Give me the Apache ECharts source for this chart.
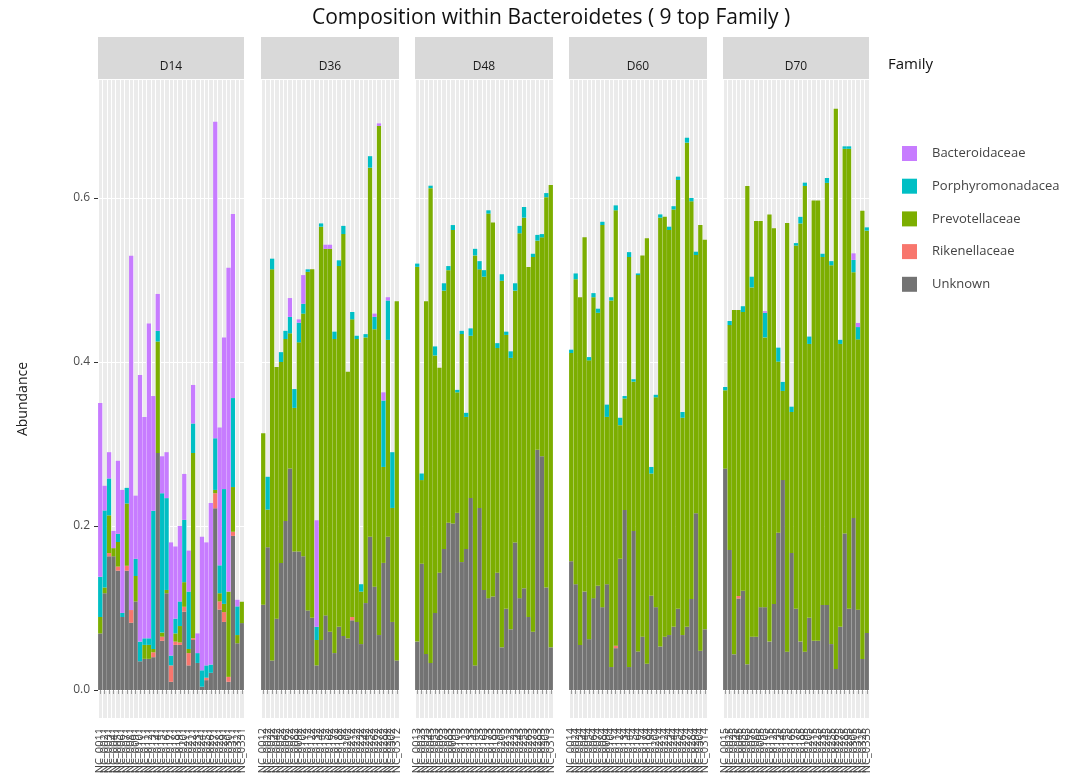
<!DOCTYPE html>
<html>
<head>
<meta charset="utf-8">
<script src="https://cdn.jsdelivr.net/npm/echarts@6/dist/echarts.min.js"></script>
<style>
html,body{margin:0;padding:0;background:#fff;}
#main{width:1079px;height:781px;}
</style>
</head>
<body>
<div id="main"></div>
<script>
var days = ["D14", "D36", "D48", "D60", "D70"];
var families = ["Bacteroidaceae", "Porphyromonadacea", "Prevotellaceae", "Rikenellaceae", "Unknown"];
var familyColors = ["#C77CFF", "#00BFC4", "#7CAE00", "#F8766D", "#737373"];
var yTicks = [0, 0.2, 0.4, 0.6];

// sample names (x tick labels) per facet
var samples_D14 = ["NC_0011","NC_0021","NC_0031","NC_0041","NC_0051","NC_0061","NC_0071","NC_0081","NC_0091","NC_0101","NC_0111",
  "NC_0121","NC_0131","NC_0141","NC_0151","NC_0161","NC_0171","NC_0181","NC_0191","NC_0201","NC_0211","NC_0221",
  "NC_0231","NC_0241","NC_0251","NC_0261","NC_0271","NC_0281","NC_0291","NC_0301","NC_0311","NC_0321","NC_0331"];
var samples_D36 = ["NC_0012","NC_0022","NC_0032","NC_0042","NC_0052","NC_0062","NC_0072","NC_0082","NC_0092","NC_0102","NC_0112",
  "NC_0122","NC_0132","NC_0142","NC_0152","NC_0162","NC_0172","NC_0182","NC_0192","NC_0202","NC_0212","NC_0222",
  "NC_0232","NC_0242","NC_0252","NC_0262","NC_0272","NC_0282","NC_0292","NC_0302","NC_0312"];
var samples_D48 = ["NC_0013","NC_0023","NC_0033","NC_0043","NC_0053","NC_0063","NC_0073","NC_0083","NC_0093","NC_0103","NC_0113",
  "NC_0123","NC_0133","NC_0143","NC_0153","NC_0163","NC_0173","NC_0183","NC_0193","NC_0203","NC_0213","NC_0223",
  "NC_0233","NC_0243","NC_0253","NC_0263","NC_0273","NC_0283","NC_0293","NC_0303","NC_0313"];
var samples_D60 = ["NC_0014","NC_0024","NC_0034","NC_0044","NC_0054","NC_0064","NC_0074","NC_0084","NC_0094","NC_0104","NC_0114",
  "NC_0124","NC_0134","NC_0144","NC_0154","NC_0164","NC_0174","NC_0184","NC_0194","NC_0204","NC_0214","NC_0224",
  "NC_0234","NC_0244","NC_0254","NC_0264","NC_0274","NC_0284","NC_0294","NC_0304","NC_0314"];
var samples_D70 = ["NC_0015","NC_0025","NC_0035","NC_0045","NC_0055","NC_0065","NC_0075","NC_0085","NC_0095","NC_0105","NC_0115",
  "NC_0125","NC_0135","NC_0145","NC_0155","NC_0165","NC_0175","NC_0185","NC_0195","NC_0205","NC_0215","NC_0225",
  "NC_0235","NC_0245","NC_0255","NC_0265","NC_0275","NC_0285","NC_0295","NC_0305","NC_0315","NC_0325","NC_0335"];

// D14
var unknown_D14 = [.069,.118,.163,.163,.1455,.089,.1455,.082,.108,.035,.038,.038,.04,.289,.06,.118,.01,.055,.055,.0955,.03,.061,.033,.004,.012,.021,.2215,.098,.083,.01,.188,.057,.0816];
var rikenellaceae_D14 = [0,0,.004,0,.005,0,.006,.0155,0,0,0,0,.006,0,.005,0,.02,.004,.003,.006,.015,.002,0,0,.003,0,.0185,.01,.012,.006,.005,0,0];
var prevotellaceae_D14 = [.02,.007,.046,.01,.03,0,.076,0,.031,0,.017,.017,.004,.136,.005,.004,0,.01,.02,.03,.005,.226,0,0,0,0,.004,.01,.01,.104,.0545,.01,.026];
var porphyromonadaceae_D14 = [.049,.094,.045,0,.01,.005,.019,0,.021,.024,.008,.008,.1685,.013,.17,.112,.012,.018,.03,.076,.07,.036,.012,.02,.015,.01,.063,.034,.14,0,.1085,.035,0];
var bacteroidaceae_D14 = [.212,.03,.032,.021,.089,.15,0,.432,.077,.325,.27,.384,.14,.045,.045,.056,.138,.088,.092,.056,.05,.047,.024,.163,.15,.197,.386,.168,.185,.395,.2245,.008,0];

// D36
var unknown_D36 = [.104,.174,.036,.087,.155,.206,.27,.169,.169,.163,.097,.088,.03,.061,.091,.071,.045,.077,.066,.063,.085,.083,.056,.106,.187,.126,.067,.155,.187,.083,.036];
var rikenellaceae_D36 = [0,0,0,0,0,0,0,0,0,0,0,0,0,0,0,0,0,0,0,0,.004,0,0,0,0,0,0,0,0,0,0];
var prevotellaceae_D36 = [.209,.046,.477,.307,.245,.222,.165,.175,.255,.296,.413,.425,.031,.504,.447,.467,.383,.44,.49,.325,.363,.345,.064,.324,.45,.314,.621,.117,.24,.139,.438];
var porphyromonadaceae_D36 = [0,.04,.013,0,.012,.01,.02,.023,.024,.012,.003,0,.016,.004,0,0,.009,.007,.01,0,.009,.004,.009,.004,.014,.015,0,.081,.048,.068,0];
var bacteroidaceae_D36 = [0,0,0,0,0,0,.023,0,.004,.035,0,0,.13,0,.005,.005,0,0,0,0,0,0,0,0,0,.004,.003,.01,.004,0,0];

// D48
var unknown_D48 = [.059,.154,.044,.033,.094,.143,.172,.204,.203,.216,.156,.172,.234,.03,.222,.122,.112,.114,.143,.052,.099,.074,.18,.112,.124,.089,.071,.293,.285,.125,.052];
var rikenellaceae_D48 = [0,0,0,0,0,0,0,0,0,0,0,0,0,0,0,0,0,0,0,0,0,0,0,0,0,0,0,0,0,0,0];
var prevotellaceae_D48 = [.457,.102,.43,.579,.314,.25,.315,.308,.358,.147,.278,.161,.198,.5,.291,.382,.469,.456,.274,.447,.334,.331,.307,.445,.452,.427,.457,.255,.267,.476,.564];
var porphyromonadaceae_D48 = [.004,.008,0,.003,.011,0,.009,.005,.006,.003,.004,.005,.009,.008,.01,.008,.004,0,.006,.008,.004,.008,.009,.009,.013,0,.004,.007,.004,.005,0];
var bacteroidaceae_D48 = [0,0,0,0,0,0,0,0,0,0,0,0,0,0,0,0,0,0,0,0,0,0,0,0,0,0,0,0,0,0,0];

// D60
var unknown_D60 = [.157,.129,.055,.12,.062,.112,.127,.101,.129,.028,.051,.16,.2195,.028,.194,.047,.065,.032,.115,.101,.053,.065,.067,.077,.099,.067,.077,.111,.2155,.048,.074];
var rikenellaceae_D60 = [0,0,0,0,0,0,0,0,0,0,.003,0,0,0,0,0,0,0,0,0,0,0,0,0,0,0,0,0,0,0,0];
var prevotellaceae_D60 = [.254,.372,.424,.432,.34,.367,.333,.466,.204,.447,.531,.163,.136,.5,.182,.459,.465,.519,.149,.256,.523,.512,.494,.509,.523,.265,.5905,.485,.315,.519,.475];
var porphyromonadaceae_D60 = [.004,.007,0,0,.004,.005,.005,.004,.015,.004,.006,.009,.003,.006,.003,.002,0,0,.008,.003,.004,0,.004,.004,.004,.007,.006,.004,.004,0,0];
var bacteroidaceae_D60 = [0,0,0,0,0,0,0,0,0,0,0,0,0,0,0,0,0,0,0,0,0,0,0,0,0,0,0,0,0,0,0];

// D70
var unknown_D70 = [.27,.1707,.0435,.1116,.121,.0313,.065,.065,.101,.101,.059,.1049,.1919,.256,.0467,.167,.099,.059,.0467,.088,.06,.06,.1037,.1037,.056,.0256,.077,.191,.099,.2098,.098,.0378,.0695];
var rikenellaceae_D70 = [0,0,0,.003,0,0,0,0,0,0,0,0,0,0,0,0,0,0,0,0,0,0,0,0,0,0,0,0,0,0,0,0,0];
var prevotellaceae_D70 = [.0955,.2743,.4199,.3488,.34,.5833,.426,.507,.471,.329,.521,.4581,.2086,.1087,.5228,.172,.443,.51,.568,.334,.537,.537,.4243,.5147,.462,.6833,.345,.469,.561,.2997,.3296,.5467,.4907];
var porphyromonadaceae_D70 = [.004,.005,0,0,.007,0,.013,0,0,.03,0,0,.017,.011,0,.0065,.003,.008,.004,.009,0,0,.004,.006,.005,0,.005,.003,.003,.015,.015,0,.004];
var bacteroidaceae_D70 = [0,0,0,0,0,0,0,0,0,.002,0,0,0,0,0,0,0,0,0,0,0,0,0,0,0,0,0,0,0,.008,.005,0,0];

var facetSamples = [samples_D14, samples_D36, samples_D48, samples_D60, samples_D70];
var facetData = [
  [bacteroidaceae_D14, porphyromonadaceae_D14, prevotellaceae_D14, rikenellaceae_D14, unknown_D14],
  [bacteroidaceae_D36, porphyromonadaceae_D36, prevotellaceae_D36, rikenellaceae_D36, unknown_D36],
  [bacteroidaceae_D48, porphyromonadaceae_D48, prevotellaceae_D48, rikenellaceae_D48, unknown_D48],
  [bacteroidaceae_D60, porphyromonadaceae_D60, prevotellaceae_D60, rikenellaceae_D60, unknown_D60],
  [bacteroidaceae_D70, porphyromonadaceae_D70, prevotellaceae_D70, rikenellaceae_D70, unknown_D70]
];

var panelLeft = [98, 261, 415, 569, 723];
var panelWidth = [146, 138, 138, 138, 146];
var panelTop = 80, panelHeight = 638;
var font = "Open Sans";

var grids = [], xAxes = [], yAxes = [], series = [], graphics = [];
for (var g = 0; g < days.length; g++) {
  grids.push({
    left: panelLeft[g], top: panelTop, width: panelWidth[g], height: panelHeight,
    show: true, backgroundColor: "#ebebeb", borderWidth: 0
  });
  xAxes.push({
    type: "category", gridIndex: g, data: facetSamples[g],
    axisLine: {show: false},
    axisTick: {show: true, alignWithLabel: true, interval: 0, length: 4, lineStyle: {color: "#999"}},
    axisLabel: {interval: 0, rotate: 90, fontSize: 11, color: "#444", margin: 10, fontFamily: font},
    splitLine: {show: true, interval: 0, lineStyle: {color: "#ffffff", width: 1}}
  });
  yAxes.push({
    type: "value", gridIndex: g, min: -0.03415, max: 0.7439,
    name: g === 0 ? "Abundance" : "", nameLocation: "middle", nameGap: 68, nameRotate: 90,
    nameTextStyle: {fontSize: 14, color: "#222", fontFamily: font},
    axisLine: {show: false},
    axisTick: {show: g === 0, length: 4, customValues: yTicks, lineStyle: {color: "#333"}},
    axisLabel: {show: g === 0, customValues: yTicks, fontSize: 12, color: "#4d4d4d", fontFamily: font,
      formatter: function (v) { return v.toFixed(1); }},
    splitLine: {show: true, lineStyle: {color: "#ffffff", width: 1.2}}
  });
  // stack bottom -> top: Unknown, Rikenellaceae, Prevotellaceae, Porphyromonadacea, Bacteroidaceae
  for (var f = families.length - 1; f >= 0; f--) {
    series.push({
      name: families[f], type: "bar", stack: "s" + g,
      xAxisIndex: g, yAxisIndex: g,
      barCategoryGap: "4%",
      itemStyle: {color: familyColors[f]},
      emphasis: {disabled: true},
      data: facetData[g][f]
    });
  }
  graphics.push({
    type: "rect", shape: {x: panelLeft[g], y: 37, width: panelWidth[g], height: 42},
    style: {fill: "#d9d9d9"}, silent: true
  });
  graphics.push({
    type: "text", x: panelLeft[g] + panelWidth[g] / 2, y: 67,
    style: {text: days[g], fill: "#1a1a1a", font: "12px " + font, textAlign: "center", textVerticalAlign: "middle"},
    silent: true
  });
}
graphics.push({
  type: "text", x: 888, y: 65,
  style: {text: "Family", fill: "#111", font: "15px " + font, textAlign: "left", textVerticalAlign: "middle"}
});

var myChart = echarts.init(document.getElementById("main"));
myChart.setOption({
  animation: false,
  title: {
    text: "Composition within Bacteroidetes ( 9 top Family )",
    left: 307, top: 3,
    textStyle: {fontSize: 21, fontWeight: "normal", color: "#111", fontFamily: font}
  },
  legend: {
    data: families, orient: "vertical", left: 897, top: 141,
    itemWidth: 15, itemHeight: 15, itemGap: 17.7, icon: "rect", selectedMode: false,
    textStyle: {fontSize: 13, color: "#444", fontFamily: font, padding: [0, 0, 0, 10]}
  },
  grid: grids,
  xAxis: xAxes,
  yAxis: yAxes,
  series: series,
  graphic: graphics
});
</script>
</body>
</html>
